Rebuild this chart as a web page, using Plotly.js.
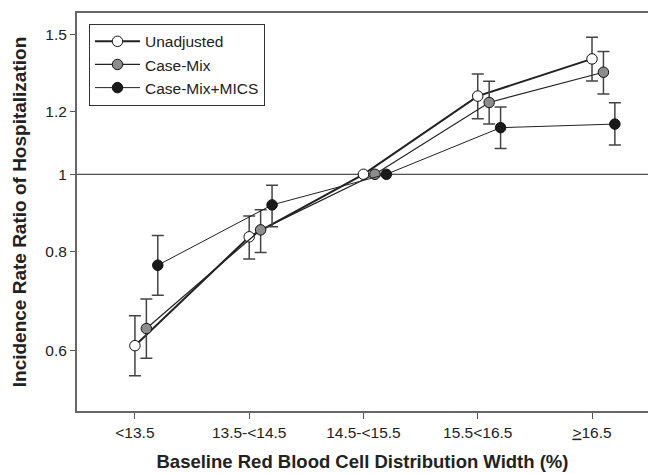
<!DOCTYPE html>
<html>
<head>
<meta charset="utf-8">
<script src="https://cdn.plot.ly/plotly-3.0.1.min.js"></script>
<style>html,body{margin:0;padding:0;background:#fff;}#chart{width:648px;height:474px;}</style>
</head>
<body>
<div id="chart"></div>
<script>
// Categories (RDW groups)
const categories = ["<13.5", "13.5-<14.5", "14.5-<15.5", "15.5<16.5", "<u>></u>16.5"];

// Incidence rate ratios and 95% CI
const unadjusted    = [0.608, 0.834, 1.0, 1.255, 1.398];
const unadjustedLo  = [0.557, 0.782, 1.0, 1.175, 1.311];
const unadjustedHi  = [0.663, 0.886, 1.0, 1.338, 1.489];

const caseMix       = [0.639, 0.851, 1.0, 1.232, 1.345];
const caseMixLo     = [0.586, 0.797, 1.0, 1.157, 1.263];
const caseMixHi     = [0.696, 0.902, 1.0, 1.310, 1.428];

const caseMixMics   = [0.768, 0.915, 1.0, 1.145, 1.157];
const caseMixMicsLo = [0.704, 0.859, 1.0, 1.078, 1.089];
const caseMixMicsHi = [0.837, 0.969, 1.0, 1.216, 1.231];

const seriesNames = ["Unadjusted", "Case-Mix", "Case-Mix+MICS"];

function mk(name, vals, lo, hi, offset, fill, lineW) {
  return {
    type: "scatter",
    mode: "lines+markers",
    name: name,
    x: vals.map((_, i) => i + offset),
    y: vals,
    line: {color: "#222", width: lineW},
    marker: {size: 10.5, color: fill, line: {color: "#111", width: 1}},
    error_y: {
      type: "data", symmetric: false,
      array: hi.map((h, i) => h - vals[i]),
      arrayminus: lo.map((l, i) => vals[i] - l),
      color: "#444", thickness: 1.5, width: 6
    }
  };
}

const traces = [
  mk(seriesNames[0], unadjusted, unadjustedLo, unadjustedHi, 0.0, "#ffffff", 2),
  mk(seriesNames[1], caseMix, caseMixLo, caseMixHi, 0.1, "#8c8c8c", 1.2),
  mk(seriesNames[2], caseMixMics, caseMixMicsLo, caseMixMicsHi, 0.2, "#1a1a1a", 1)
];

const layout = {
  width: 648, height: 474,
  margin: {l: 77, r: 0, t: 13, b: 63},
  paper_bgcolor: "#fff", plot_bgcolor: "#fff",
  font: {family: "Liberation Sans, Arial, sans-serif", color: "#222", size: 15.5},
  showlegend: true,
  legend: {
    x: 0.021, y: 0.973, xanchor: "left", yanchor: "top",
    bgcolor: "#fff", bordercolor: "#333", borderwidth: 1,
    font: {size: 15.5, color: "#222"}, tracegroupgap: 0, itemwidth: 45
  },
  xaxis: {
    range: [-0.507, 4.49],
    tickvals: categories.map((_, i) => i),
    ticktext: categories,
    showgrid: false, zeroline: false,
    showline: true, linecolor: "#666", linewidth: 2, mirror: true,
    ticks: "outside", ticklen: 6, tickcolor: "#555", tickwidth: 1,
    tickfont: {size: 15.5},
    title: {text: "<b>Baseline Red Blood Cell Distribution Width (%)</b>", font: {size: 18.5}, standoff: 15}
  },
  yaxis: {
    type: "log",
    range: [-0.2985, 0.2034],
    tickvals: [0.6, 0.8, 1, 1.2, 1.5],
    ticktext: ["0.6", "0.8", "1", "1.2", "1.5"],
    showgrid: false, zeroline: false,
    showline: true, linecolor: "#666", linewidth: 2, mirror: true,
    ticks: "outside", ticklen: 5, tickcolor: "#555", tickwidth: 1,
    tickfont: {size: 15.5},
    title: {text: "<b>Incidence Rate Ratio of Hospitalization</b>", font: {size: 19}, standoff: 14}
  },
  shapes: [{
    type: "line", xref: "paper", x0: 0, x1: 1, yref: "y", y0: 1, y1: 1,
    line: {color: "#222", width: 1}, layer: "below"
  }]
};

Plotly.newPlot("chart", traces, layout, {displayModeBar: false, staticPlot: true});
</script>
</body>
</html>
